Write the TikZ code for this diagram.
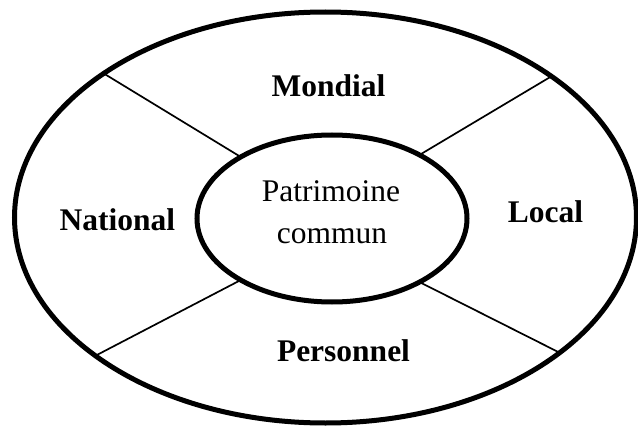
\documentclass[tikz,border=0pt]{standalone}
\usepackage{fontspec}
\setmainfont{Liberation Serif}
\usetikzlibrary{shapes.geometric}

\tikzset{
  ring/.style={draw, ellipse, inner sep=0pt, outer sep=0pt, line width=5pt},
  divider/.style={draw, line width=1.7pt},
  sector/.style={anchor=base, inner sep=0pt, font=\fontsize{31.5}{38}\selectfont\bfseries},
  core/.style={anchor=base, inner sep=0pt, font=\fontsize{31.5}{38}\selectfont}
}

\begin{document}
\begin{tikzpicture}[x=1pt, y=-1pt]
  \useasboundingbox (0,0) rectangle (638,428);

  % outer ring and the central ellipse
  \node[ring, minimum width=622pt, minimum height=411pt] (outer) at (325.5,217.5) {};
  \node[ring, minimum width=270pt, minimum height=167pt] (inner) at (332,218.5) {};

  % four dividers between the rings
  \draw[divider] (outer.147.5) -- (inner.146.7);
  \draw[divider] (outer.32.7)  -- (inner.36.6);
  \draw[divider] (outer.211.2) -- (inner.214.0);
  \draw[divider] (outer.330.9) -- (inner.324.5);

  % sector labels
  \node[sector] (mondial)   at (328.5,97)  {Mondial};
  \node[sector] (national)  at (117.5,230) {National};
  \node[sector] (local)     at (545.5,222) {Local};
  \node[sector] (personnel) at (343.5,361) {Personnel};

  % centre label
  \node[core] (patrimoine) at (331,201) {Patrimoine};
  \node[core] (commun)     at (332,243) {commun};
\end{tikzpicture}
\end{document}
